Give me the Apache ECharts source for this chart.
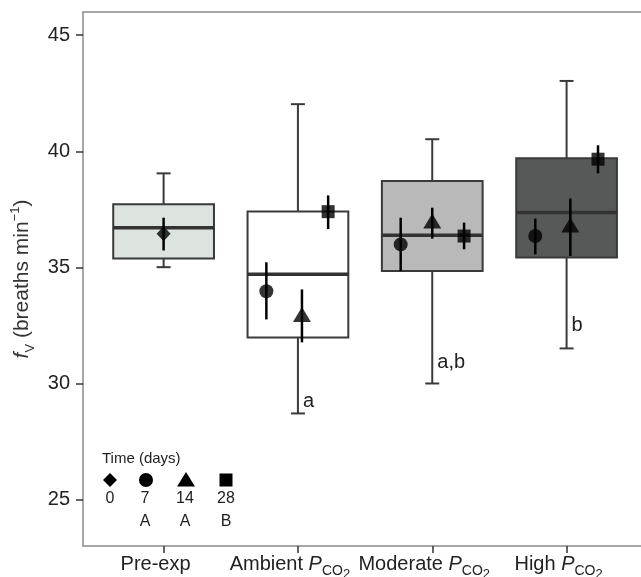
<!DOCTYPE html>
<html>
<head>
<meta charset="utf-8">
<script src="https://cdn.jsdelivr.net/npm/echarts@6/dist/echarts.min.js"></script>
<style>html,body{margin:0;padding:0;background:#fff;}#c{width:641px;height:577px;}</style>
</head>
<body>
<div id="c"></div>
<script>
// ---- data ----
const categories = ['Pre-exp', 'Ambient', 'Moderate', 'High'];
const categoryPositions = [1, 2, 3, 4];
const boxMin    = [35.01, 28.71, 30.00, 31.51];
const boxQ1     = [35.38, 31.98, 34.84, 35.43];
const boxMedian = [36.71, 34.70, 36.38, 37.36];
const boxQ3     = [37.72, 37.41, 38.72, 39.70];
const boxMax    = [39.05, 42.03, 40.52, 43.03];

// time-point means with error bars (x = group position incl. dodge)
const day0X = [1.0],   day0Mean = [36.45], day0Lo = [35.73], day0Hi = [37.14];
const day7X = [1.765, 2.765, 3.767], day7Mean = [33.97, 35.99, 36.35], day7Lo = [32.76, 34.84, 35.56], day7Hi = [35.22, 37.14, 37.10];
const day14X = [2.03, 3.0, 4.028],  day14Mean = [32.97, 37.00, 36.83], day14Lo = [31.77, 36.24, 35.49], day14Hi = [34.05, 37.57, 37.97];
const day28X = [2.225, 3.237, 4.234], day28Mean = [37.40, 36.35, 39.66], day28Lo = [36.65, 35.78, 39.05], day28Hi = [38.10, 36.93, 40.26];

// significance letters
const letterText = ['a', 'a,b', 'b'];
const letterX = [2, 3, 4];
const letterY = [29.24, 30.90, 32.51];

const yTicks = [25, 30, 35, 40, 45];

// ---- styles ----
const boxFill = ['#dde3df', '#ffffff', '#b8b9b8', '#575958'];
const FONT = 'Liberation Sans, Arial, sans-serif';
const xLabelText = ['{m|Pre-exp}', '{m|Ambient }{i|P}{s|CO}{t|2}', '{m|Moderate }{i|P}{s|CO}{t|2}', '{m|High }{i|P}{s|CO}{t|2}'];

const chart = echarts.init(document.getElementById('c'), null, {renderer: 'canvas'});

function boxRender(params, api) {
  const x = api.value(0);
  const half = 0.375;
  const xl = api.coord([x - half, 0])[0];
  const xr = api.coord([x + half, 0])[0];
  const xc = api.coord([x, 0])[0];
  const yMin = api.coord([x, api.value(1)])[1];
  const yQ1 = api.coord([x, api.value(2)])[1];
  const yMed = api.coord([x, api.value(3)])[1];
  const yQ3 = api.coord([x, api.value(4)])[1];
  const yMax = api.coord([x, api.value(5)])[1];
  const cap = 7;
  const ls = {stroke: '#3a3a3a', lineWidth: 2};
  return {
    type: 'group',
    children: [
      {type: 'line', shape: {x1: xc, y1: yMax, x2: xc, y2: yQ3}, style: ls},
      {type: 'line', shape: {x1: xc, y1: yQ1, x2: xc, y2: yMin}, style: ls},
      {type: 'line', shape: {x1: xc - cap, y1: yMax, x2: xc + cap, y2: yMax}, style: ls},
      {type: 'line', shape: {x1: xc - cap, y1: yMin, x2: xc + cap, y2: yMin}, style: ls},
      {type: 'rect', shape: {x: xl, y: yQ3, width: xr - xl, height: yQ1 - yQ3},
        style: {fill: boxFill[params.dataIndex], stroke: '#3a3a3a', lineWidth: 2}},
      {type: 'line', shape: {x1: xl, y1: yMed, x2: xr, y2: yMed}, style: {stroke: '#333', lineWidth: 3.5}}
    ]
  };
}

function errRender(params, api) {
  const p1 = api.coord([api.value(0), api.value(1)]);
  const p2 = api.coord([api.value(0), api.value(2)]);
  return {type: 'line', shape: {x1: p1[0], y1: p1[1], x2: p2[0], y2: p2[1]}, style: {stroke: '#000', lineWidth: 2.5}};
}

function letterRender(params, api) {
  const p = api.coord([api.value(0), api.value(1)]);
  return {type: 'text', x: p[0] + 5, y: p[1],
    style: {text: letterText[params.dataIndex], fontSize: 20, fontFamily: FONT, fill: '#222', align: 'left', verticalAlign: 'middle'}};
}

const errData = [];
[[day0X, day0Lo, day0Hi], [day7X, day7Lo, day7Hi], [day14X, day14Lo, day14Hi], [day28X, day28Lo, day28Hi]].forEach(g => {
  g[0].forEach((x, k) => errData.push([x, g[1][k], g[2][k]]));
});

const zip = (xs, ys) => xs.map((x, k) => [x, ys[k]]);

const subRich = {
  m: {fontSize: 20, lineHeight: 22, verticalAlign: 'top', color: '#222', fontFamily: FONT},
  i: {fontSize: 20, lineHeight: 22, verticalAlign: 'top', color: '#222', fontStyle: 'italic', fontFamily: FONT},
  s: {fontSize: 14, lineHeight: 14, verticalAlign: 'top', color: '#222', padding: [10, 0, 0, 0], fontFamily: FONT},
  t: {fontSize: 13, lineHeight: 13, verticalAlign: 'top', color: '#222', padding: [14, 0, 0, 0], fontFamily: FONT}
};

// legend graphic
const lgY = 480;
const legendGraphic = [
  {type: 'text', left: 102, top: 451, style: {text: 'Time (days)', fontSize: 15, fontFamily: FONT, fill: '#222'}},
  {type: 'polygon', shape: {points: [[110, lgY - 7], [117, lgY], [110, lgY + 7], [103, lgY]]}, style: {fill: '#000'}},
  {type: 'circle', shape: {cx: 146, cy: lgY, r: 7}, style: {fill: '#000'}},
  {type: 'polygon', shape: {points: [[186, lgY - 8], [195, lgY + 6.5], [177, lgY + 6.5]]}, style: {fill: '#000'}},
  {type: 'rect', shape: {x: 219.5, y: lgY - 6.5, width: 13, height: 13}, style: {fill: '#000'}}
];
[['0', 110], ['7', 145], ['14', 185], ['28', 226]].forEach(d => {
  legendGraphic.push({type: 'text', x: d[1], y: 499, style: {text: d[0], fontSize: 16, fontFamily: FONT, fill: '#222', align: 'center', verticalAlign: 'middle'}});
});
[['A', 145], ['A', 185], ['B', 226]].forEach(d => {
  legendGraphic.push({type: 'text', x: d[1], y: 522, style: {text: d[0], fontSize: 16, fontFamily: FONT, fill: '#222', align: 'center', verticalAlign: 'middle'}});
});

const option = {
  backgroundColor: '#fff',
  animation: false,
  grid: {left: 83, right: 0, top: 12, bottom: 31, containLabel: false, outerBoundsMode: 'none'},
  xAxis: [{
    type: 'value', min: 0.4, max: 4.554, position: 'bottom',
    axisLine: {show: true, lineStyle: {color: '#8a8a8a', width: 1.5}},
    axisTick: {show: true, customValues: categoryPositions, length: 7, lineStyle: {color: '#333', width: 1.5}},
    axisLabel: {customValues: categoryPositions, margin: 8, padding: [0, 16, 0, 0],
      formatter: v => xLabelText[Math.round(v) - 1], rich: subRich},
    splitLine: {show: false}
  }, {
    type: 'value', min: 0.4, max: 4.554, position: 'top',
    axisLine: {show: true, lineStyle: {color: '#8a8a8a', width: 1.5}},
    axisTick: {show: false}, axisLabel: {show: false}, splitLine: {show: false}
  }],
  yAxis: {
    type: 'value', min: 23, max: 46,
    axisLine: {show: true, lineStyle: {color: '#8a8a8a', width: 1.5}},
    axisTick: {show: true, customValues: yTicks, length: 7, lineStyle: {color: '#333', width: 1.5}},
    axisLabel: {customValues: yTicks, fontSize: 20, color: '#222', margin: 13, fontFamily: FONT},
    splitLine: {show: false},
    name: '{fi|f}{sub|V}{m| (breaths min}{sup|−1}{m|)}',
    nameLocation: 'middle', nameGap: 44, nameRotate: 90,
    nameTextStyle: {
      rich: {
        m: {fontSize: 21, lineHeight: 23, verticalAlign: 'top', padding: [5, 0, 0, 0], color: '#333', fontFamily: FONT},
        fi: {fontSize: 21, lineHeight: 23, verticalAlign: 'top', padding: [5, 0, 0, 0], color: '#333', fontStyle: 'italic', fontFamily: FONT},
        sup: {fontSize: 13, lineHeight: 13, verticalAlign: 'top', padding: [2, 0, 0, 0], color: '#333', fontFamily: FONT},
        sub: {fontSize: 13, lineHeight: 13, verticalAlign: 'top', padding: [17, 0, 0, 0], color: '#333', fontFamily: FONT}
      }
    }
  },
  graphic: legendGraphic,
  series: [
    {type: 'custom', name: 'box', z: 1, renderItem: boxRender,
      encode: {x: 0, y: [1, 2, 3, 4, 5]},
      data: categoryPositions.map((x, k) => [x, boxMin[k], boxQ1[k], boxMedian[k], boxQ3[k], boxMax[k]])},
    {type: 'custom', name: 'err', z: 3, renderItem: errRender, encode: {x: 0, y: [1, 2]}, data: errData},
    {type: 'scatter', name: '0', z: 4, symbol: 'diamond', symbolSize: [14, 15], itemStyle: {color: '#000'}, data: zip(day0X, day0Mean)},
    {type: 'scatter', name: '7', z: 4, symbol: 'circle', symbolSize: 14, itemStyle: {color: '#000'}, data: zip(day7X, day7Mean)},
    {type: 'scatter', name: '14', z: 4, symbol: 'triangle', symbolSize: [18, 15], itemStyle: {color: '#000'}, data: zip(day14X, day14Mean)},
    {type: 'scatter', name: '28', z: 4, symbol: 'rect', symbolSize: 13, itemStyle: {color: '#000'}, data: zip(day28X, day28Mean)},
    {type: 'custom', name: 'letters', z: 5, renderItem: letterRender, encode: {x: 0, y: 1}, data: zip(letterX, letterY)}
  ]
};
chart.setOption(option);
</script>
</body>
</html>
